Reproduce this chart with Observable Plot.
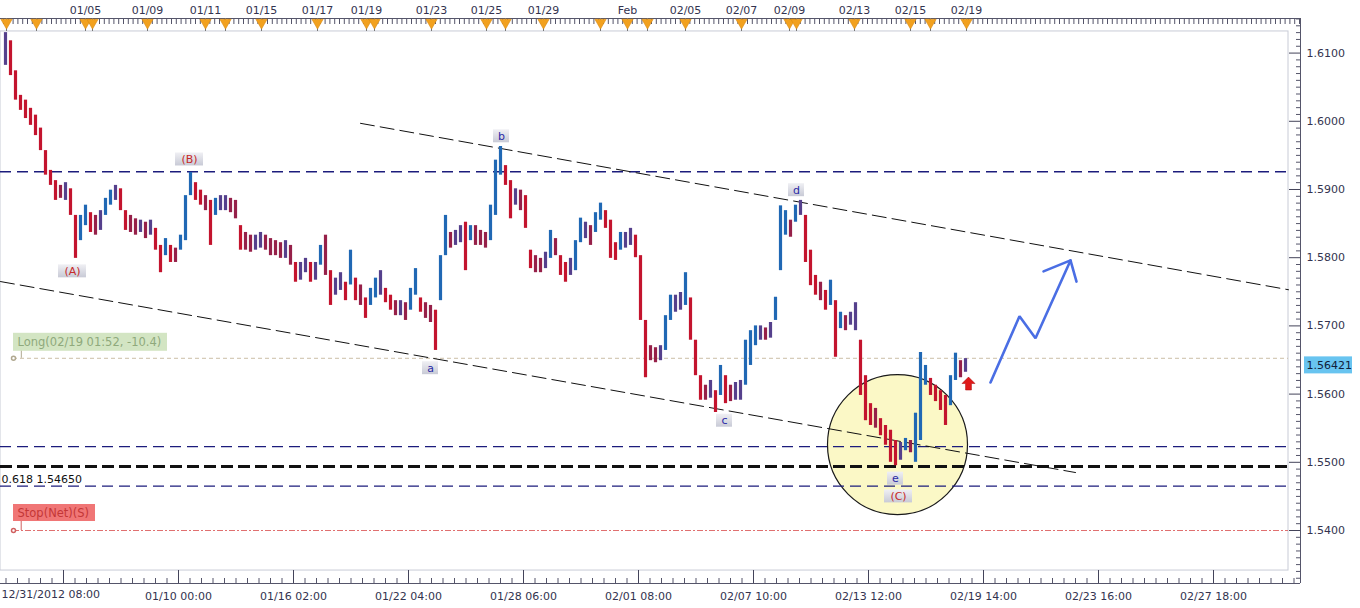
<!DOCTYPE html>
<html>
<head>
<meta charset="utf-8">
<script src="https://cdn.jsdelivr.net/npm/d3@7"></script>
<script src="https://cdn.jsdelivr.net/npm/@observablehq/plot@0.6"></script>
<style>
  html, body { margin: 0; padding: 0; background: #fff; }
  #chart { width: 1360px; height: 608px; overflow: hidden; }
</style>
</head>
<body>
<div id="chart"></div>
<script>
// GBP/USD two-hour bars, 12/31/2012 08:00 to 02/19/2013 (bar slot i sits at x = i + 1)
const barHigh = [
  1.6130, 1.6118, 1.6074, 1.6038, 1.6031, 1.6019, 1.6009, 1.5990, 1.5957, 1.5928,
  1.5913, 1.5906, 1.5910, 1.5901, 1.5862, 1.5862, 1.5877, 1.5866, 1.5862, 1.5869,
  1.5887, 1.5899, 1.5906, 1.5901, 1.5869, 1.5862, 1.5857, 1.5855, 1.5852, 1.5855,
  1.5843, 1.5818, 1.5828, 1.5818, 1.5814, 1.5833, 1.5891, 1.5925, 1.5910, 1.5899,
  1.5891, 1.5884, 1.5887, 1.5891, 1.5891, 1.5887, 1.5884, 1.5847, 1.5837, 1.5833,
  1.5833, 1.5837, 1.5833, 1.5828, 1.5825, 1.5822, 1.5825, 1.5818, 1.5793, 1.5793,
  1.5799, 1.5793, 1.5793, 1.5818, 1.5833, 1.5781, 1.5770, 1.5778, 1.5764, 1.5811,
  1.5770, 1.5760, 1.5741, 1.5755, 1.5770, 1.5781, 1.5755, 1.5745, 1.5737, 1.5737,
  1.5734, 1.5755, 1.5784, 1.5741, 1.5734, 1.5730, 1.5723, 1.5803, 1.5862, 1.5837,
  1.5840, 1.5847, 1.5852, 1.5847, 1.5847, 1.5840, 1.5837, 1.5877, 1.5943, 1.5963,
  1.5935, 1.5913, 1.5901, 1.5899, 1.5891, 1.5811, 1.5803, 1.5799, 1.5808, 1.5840,
  1.5828, 1.5803, 1.5793, 1.5799, 1.5825, 1.5858, 1.5852, 1.5847, 1.5866, 1.5880,
  1.5869, 1.5855, 1.5822, 1.5837, 1.5837, 1.5843, 1.5833, 1.5803, 1.5708, 1.5671,
  1.5668, 1.5671, 1.5715, 1.5745, 1.5745, 1.5749, 1.5778, 1.5741, 1.5679, 1.5627,
  1.5613, 1.5620, 1.5605, 1.5642, 1.5627, 1.5613, 1.5617, 1.5620, 1.5679, 1.5693,
  1.5700, 1.5700, 1.5697, 1.5705, 1.5742, 1.5876, 1.5869, 1.5855, 1.5877, 1.5884,
  1.5862, 1.5811, 1.5774, 1.5764, 1.5752, 1.5767, 1.5737, 1.5720, 1.5715, 1.5720,
  1.5734, 1.5679, 1.5627, 1.5586, 1.5579, 1.5564, 1.5554, 1.5547, 1.5532, 1.5529,
  1.5535, 1.5532, 1.5572, 1.5661, 1.5642, 1.5623, 1.5613, 1.5605, 1.5598, 1.5627,
  1.5660, 1.5649, 1.5652
];
const barLow = [
  1.6082, 1.6067, 1.6031, 1.6016, 1.6004, 1.5994, 1.5979, 1.5957, 1.5921, 1.5906,
  1.5884, 1.5887, 1.5884, 1.5862, 1.5799, 1.5825, 1.5847, 1.5837, 1.5833, 1.5840,
  1.5862, 1.5877, 1.5884, 1.5869, 1.5840, 1.5837, 1.5833, 1.5837, 1.5828, 1.5833,
  1.5811, 1.5778, 1.5803, 1.5793, 1.5793, 1.5811, 1.5825, 1.5891, 1.5884, 1.5877,
  1.5869, 1.5818, 1.5862, 1.5869, 1.5869, 1.5866, 1.5857, 1.5811, 1.5811, 1.5808,
  1.5811, 1.5814, 1.5811, 1.5803, 1.5803, 1.5799, 1.5799, 1.5789, 1.5764, 1.5767,
  1.5778, 1.5764, 1.5767, 1.5789, 1.5774, 1.5730, 1.5745, 1.5752, 1.5737, 1.5760,
  1.5737, 1.5730, 1.5711, 1.5730, 1.5741, 1.5745, 1.5734, 1.5723, 1.5715, 1.5715,
  1.5708, 1.5723, 1.5745, 1.5720, 1.5711, 1.5705, 1.5664, 1.5737, 1.5803, 1.5814,
  1.5818, 1.5822, 1.5781, 1.5825, 1.5818, 1.5818, 1.5814, 1.5825, 1.5862, 1.5921,
  1.5906, 1.5857, 1.5877, 1.5869, 1.5843, 1.5784, 1.5778, 1.5778, 1.5784, 1.5799,
  1.5803, 1.5774, 1.5764, 1.5774, 1.5781, 1.5822, 1.5828, 1.5818, 1.5837, 1.5855,
  1.5843, 1.5799, 1.5796, 1.5811, 1.5814, 1.5818, 1.5800, 1.5708, 1.5624, 1.5649,
  1.5646, 1.5649, 1.5664, 1.5708, 1.5720, 1.5723, 1.5730, 1.5679, 1.5627, 1.5591,
  1.5591, 1.5594, 1.5573, 1.5598, 1.5586, 1.5589, 1.5591, 1.5591, 1.5613, 1.5642,
  1.5671, 1.5679, 1.5679, 1.5682, 1.5708, 1.5781, 1.5833, 1.5830, 1.5852, 1.5862,
  1.5793, 1.5759, 1.5745, 1.5737, 1.5723, 1.5730, 1.5654, 1.5696, 1.5693, 1.5701,
  1.5693, 1.5598, 1.5561, 1.5554, 1.5550, 1.5539, 1.5525, 1.5500, 1.5495, 1.5503,
  1.5517, 1.5514, 1.5500, 1.5532, 1.5613, 1.5598, 1.5589, 1.5576, 1.5554, 1.5583,
  1.5620, 1.5624, 1.5632
];

// Time axis (bottom) and day markers (top)
const bottomTicks = [12.6, 35.6, 58.6, 81.6, 104.6, 127.6, 150.6, 173.6, 196.6, 219.6, 242.6];
const bottomLabels = ["12/31/2012 08:00", "01/10 00:00", "01/16 02:00", "01/22 04:00", "01/28 06:00",
  "02/01 08:00", "02/07 10:00", "02/13 12:00", "02/19 14:00", "02/23 16:00", "02/27 18:00"];
const topTicks = [17, 29.4, 41, 52.2, 63.4, 73.2, 86.2, 97.2, 108.6, 125.4, 137, 148.2, 157.8, 170.8, 182, 193.2];
const topLabels = ["01/05", "01/09", "01/11", "01/15", "01/17", "01/19", "01/23", "01/25", "01/29",
  "Feb", "02/05", "02/07", "02/09", "02/13", "02/15", "02/19"];
const eventMarkers = [1.2, 7.2, 17, 18.4, 29.4, 41, 45, 52.2, 63.4, 73.2, 74.8, 86.2, 97.2, 101,
  108.6, 120, 125.4, 129.4, 137, 148.2, 157.8, 159.2, 170.8, 182, 186, 193.2];
const priceTicks = [1.54, 1.55, 1.56, 1.57, 1.58, 1.59, 1.60, 1.61];

// Levels and trade
const resistanceLevels = [1.5926, 1.5523, 1.5465];
const fibLevel = 1.5494;
const fibTag = "0.618 1.54650";
const fibTagLevel = 1.5465;
const longEntry = 1.56525;
const longTag = "Long(02/19 01:52, -10.4)";
const stopLevel = 1.5400;
const stopTag = "Stop(Net)(S)";
const lastPrice = 1.56421;

// Elliott wave channel, labels and projection
const upperChannel = [{t: 72, p: 1.5997}, {t: 257.6, p: 1.5753}];
const lowerChannel = [{t: 0, p: 1.5765}, {t: 215, p: 1.5485}];
const waveLabels = [
  {text: "(A)", t: 14.4, p: 1.5780, degree: "major"},
  {text: "(B)", t: 37.8, p: 1.5944, degree: "major"},
  {text: "a", t: 86, p: 1.5638, degree: "minor"},
  {text: "b", t: 100.2, p: 1.5978, degree: "minor"},
  {text: "c", t: 144.8, p: 1.5561, degree: "minor"},
  {text: "d", t: 159.2, p: 1.5899, degree: "minor"},
  {text: "e", t: 179, p: 1.5476, degree: "minor"},
  {text: "(C)", t: 179.6, p: 1.5450, degree: "major"}
];
const waveFocus = [{t: 179.4, p: 1.5526}];
const projection = [{t: 198, p: 1.5617}, {t: 203.8, p: 1.5714}, {t: 207, p: 1.5682}, {t: 214, p: 1.5796}];
const projectionHead = [{t: 208.6, p: 1.5780}, {t: 214, p: 1.5796}, {t: 215.2, p: 1.5765}];
const buySignal = [{t: 193.6, p: 1.56155}];

// ---- chart ----
const xDomain = [0, 260];
const yDomain = [1.53223, 1.61507];
const frameRight = 257.6, frameTop = 1.61317, frameBottom = 1.53413;

const bars = barHigh.map((hi, i) => ({t: i + 1, hi, lo: barLow[i]}));
bars.forEach((b, i) => {
  const mid = (b.hi + b.lo) / 2;
  const prev = i ? (bars[i - 1].hi + bars[i - 1].lo) / 2 : mid;
  const d = mid - prev;
  b.color = d > 0.0009 ? "#2068b4" : d < -0.0009 ? "#c3142e" : d >= 0 ? "#55408c" : "#962049";
});

const topLabelOf = new Map(topTicks.map((t, i) => [t, topLabels[i]]));
const bottomLabelOf = new Map(bottomTicks.map((t, i) => [t, bottomLabels[i]]));
const minorPrice = d3.range(1533, 1616).map(k => k / 1000).filter(p => !priceTicks.some(q => Math.abs(q - p) < 1e-9));
const majorWaves = waveLabels.filter(d => d.degree === "major");
const minorWaves = waveLabels.filter(d => d.degree === "minor");

// block arrow symbol for the buy signal
const blockArrow = {
  draw(ctx, size) {
    const r = Math.sqrt(size / Math.PI), s = r * 0.45;
    ctx.moveTo(0, -r); ctx.lineTo(r, 0); ctx.lineTo(s, 0); ctx.lineTo(s, r);
    ctx.lineTo(-s, r); ctx.lineTo(-s, 0); ctx.lineTo(-r, 0); ctx.closePath();
  }
};

const axisInk = "#33334f";
const tagBox = {x1: "t", x2: "t", y1: "p", y2: "p", insetTop: -6.5, insetBottom: -6.5, fill: "url(#tagShade)"};

const chart = Plot.plot({
  width: 1360,
  height: 608,
  marginLeft: 0,
  marginRight: 60,
  marginTop: 18,
  marginBottom: 25,
  x: {domain: xDomain, label: null},
  y: {domain: yDomain, label: null},
  color: {type: "identity"},
  style: {fontFamily: "'DejaVu Sans', Verdana, sans-serif", fontSize: "11px", background: "#fff", overflow: "visible"},
  marks: [
    // panel frame
    Plot.rect([0], {x1: 0, x2: frameRight, y1: frameBottom, y2: frameTop, fill: "#fff", stroke: "#c8cbd6"}),
    // wave (C) focus
    Plot.dot(waveFocus, {x: "t", y: "p", r: 70, fill: "#fbf8c6", stroke: "#1a1a1a", strokeWidth: 1.2}),
    // horizontal levels
    Plot.ruleY(resistanceLevels, {x1: 0, x2: frameRight, stroke: "#1c1c7c", strokeWidth: 1.3, strokeDasharray: "11,6"}),
    Plot.ruleY([fibLevel], {x1: 0, x2: frameRight, stroke: "#111", strokeWidth: 3, strokeDasharray: "12,5"}),
    Plot.ruleY([longEntry], {x1: 2.6, x2: frameRight, stroke: "#cbbfa6", strokeDasharray: "4,3"}),
    Plot.ruleY([stopLevel], {x1: 2.6, x2: frameRight, stroke: "#e07070", strokeDasharray: "6,2,2,2"}),
    // channel
    Plot.line(upperChannel, {x: "t", y: "p", stroke: "#111", strokeWidth: 1, strokeDasharray: "14,6"}),
    Plot.line(lowerChannel, {x: "t", y: "p", stroke: "#111", strokeWidth: 1, strokeDasharray: "14,6"}),
    // price bars
    Plot.ruleX(bars, {x: "t", y1: "lo", y2: "hi", stroke: "color", strokeWidth: 3.2}),
    // projection
    Plot.line(projection, {x: "t", y: "p", stroke: "#4a6ee4", strokeWidth: 2.6, strokeLinejoin: "miter"}),
    Plot.line(projectionHead, {x: "t", y: "p", stroke: "#4a6ee4", strokeWidth: 2.6}),
    Plot.dot(buySignal, {x: "t", y: "p", symbol: blockArrow, r: 6.5, fill: "#e01a1a", stroke: "#a00", strokeWidth: 0.5}),
    // wave labels with shaded tags
    Plot.rect(majorWaves, {...tagBox, insetLeft: -14, insetRight: -14}),
    Plot.rect(minorWaves, {...tagBox, insetLeft: -8, insetRight: -8}),
    Plot.text(waveLabels, {x: "t", y: "p", text: "text", fill: d => d.degree === "major" ? "#c62a2a" : "#2a2aa6"}),
    // trade tags
    Plot.ruleX([longEntry, stopLevel], {frameAnchor: "left", y1: d => d, y2: d => d, insetTop: -9, dx: 13, stroke: ["#b0a890", "#d06060"]}),
    Plot.dot([longEntry, stopLevel], {y: d => d, frameAnchor: "left", dx: 13, r: 2, fill: "#fff", stroke: ["#b0a890", "#d06060"]}),
    Plot.rect([longEntry], {x1: xDomain[0], x2: xDomain[0], y1: d => d, y2: d => d, insetLeft: 13, insetRight: -167, insetTop: -25, insetBottom: 7, fill: "#d3e5c3"}),
    Plot.rect([stopLevel], {x1: xDomain[0], x2: xDomain[0], y1: d => d, y2: d => d, insetLeft: 13, insetRight: -95, insetTop: -26, insetBottom: 9, fill: "#f07676"}),
    Plot.text([fibTag], {y: [fibTagLevel], text: d => d, frameAnchor: "left", dx: 1, dy: -7, textAnchor: "start", fill: "#111"}),
    Plot.text([longTag], {y: [longEntry], text: d => d, frameAnchor: "left", dx: 17, dy: -16, textAnchor: "start", fill: "#8fa97c", fontSize: 11.5}),
    Plot.text([stopTag], {y: [stopLevel], text: d => d, frameAnchor: "left", dx: 17, dy: -17.5, textAnchor: "start", fill: "#c43636", fontSize: 11.5}),
    // top ruler
    Plot.ruleY([yDomain[1]], {stroke: "#55556a"}),
    Plot.ruleX(d3.range(0.6, 260.5, 0.96), {insetBottom: 559, stroke: "#55556a"}),
    Plot.ruleX(eventMarkers, {insetBottom: 552, stroke: "#777"}),
    Plot.dot(eventMarkers, {x: d => d, frameAnchor: "top", dy: 4, symbol: "triangle", rotate: 180, r: 4.2, fill: "#f2a11e", stroke: "#d98a10", strokeWidth: 0.6}),
    Plot.axisX(topTicks, {anchor: "top", tickSize: 0, tickPadding: 5, tickFormat: d => topLabelOf.get(d), fill: axisInk, label: null}),
    // bottom ruler
    Plot.ruleY([yDomain[0]], {stroke: "#55556a"}),
    Plot.ruleX(d3.range(1.1, 260, 2.3), {insetTop: 560, stroke: "#55556a"}),
    Plot.ruleX(bottomTicks, {insetTop: 552, stroke: "#44445a"}),
    Plot.axisX(bottomTicks.slice(1), {anchor: "bottom", tickSize: 0, tickPadding: 9, tickFormat: d => bottomLabelOf.get(d), fill: axisInk, label: null}),
    Plot.text([bottomTicks[0]], {x: d => d, text: d => bottomLabelOf.get(d), frameAnchor: "bottom", dy: 14, dx: -62, textAnchor: "start", fill: axisInk}),
    // price axis
    Plot.ruleX([xDomain[1]], {stroke: "#55556a"}),
    Plot.ruleY(priceTicks, {insetLeft: 1289, stroke: "#44445a"}),
    Plot.ruleY(minorPrice, {insetLeft: 1296, stroke: "#55556a"}),
    Plot.axisY(priceTicks, {anchor: "right", tickSize: 0, tickPadding: 6, tickFormat: d => d.toFixed(4), fill: axisInk, label: null}),
    Plot.rect([lastPrice], {x1: xDomain[1], x2: xDomain[1], y1: d => d, y2: d => d, insetLeft: 4, insetRight: -52, insetTop: -8.5, insetBottom: -8.5, fill: "#68c4f0"}),
    Plot.text([lastPrice], {y: d => d, text: d => d.toFixed(5), frameAnchor: "right", dx: 6, textAnchor: "start", fill: "#10203a"})
  ]
});

document.getElementById("chart").append(chart);

// shading used by the wave tags
const defs = d3.select(chart).insert("defs", ":first-child");
const grad = defs.append("linearGradient").attr("id", "tagShade").attr("x1", 0).attr("y1", 0).attr("x2", 0).attr("y2", 1);
grad.append("stop").attr("offset", "0%").attr("stop-color", "#f0f0f4");
grad.append("stop").attr("offset", "100%").attr("stop-color", "#c8cad6");
</script>
</body>
</html>
